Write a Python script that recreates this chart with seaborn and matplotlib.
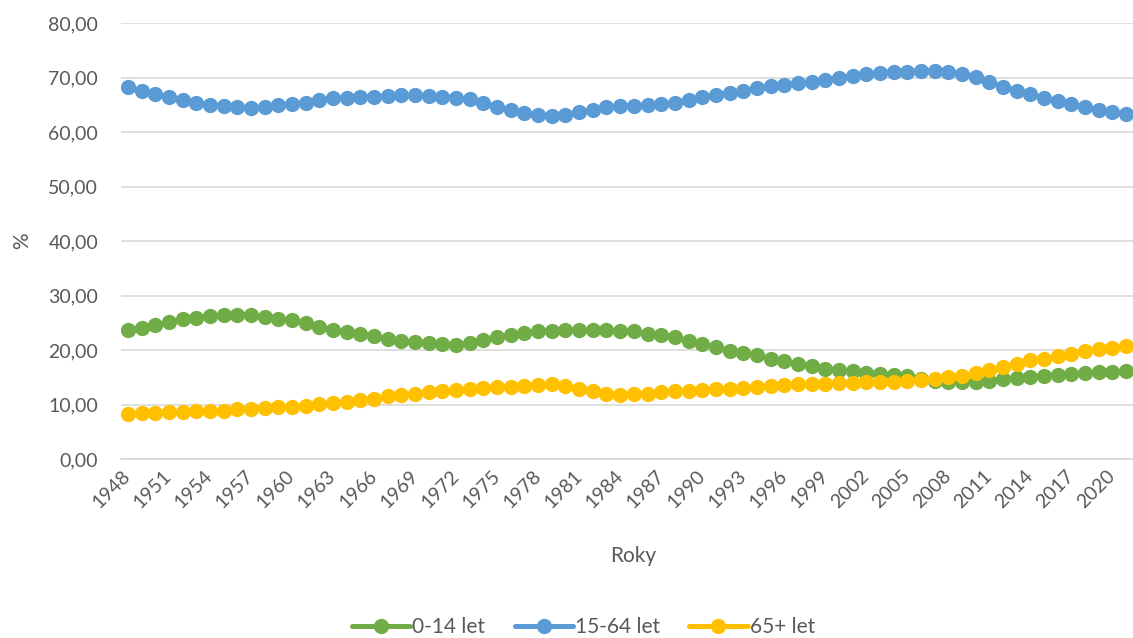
import numpy as np
import pandas as pd
import matplotlib
matplotlib.use("Agg")
import matplotlib.pyplot as plt
import seaborn as sns

# Population age structure, share of each age group (%)
years = list(range(1948, 2022))

age_0_14 = [
    23.6, 24.1, 24.6, 25.1, 25.6, 25.9, 26.3, 26.4, 26.5, 26.5,
    26.0, 25.7, 25.5, 24.9, 24.2, 23.7, 23.3, 22.9, 22.5, 22.0,
    21.7, 21.4, 21.2, 21.1, 21.0, 21.3, 21.9, 22.4, 22.8, 23.2,
    23.4, 23.5, 23.6, 23.6, 23.6, 23.6, 23.5, 23.4, 22.9, 22.75,
    22.3, 21.7, 21.1, 20.5, 19.9, 19.4, 19.0, 18.35, 17.9, 17.4,
    17.0, 16.6, 16.3, 16.1, 15.85, 15.65, 15.4, 15.2, 14.7, 14.3,
    14.1, 14.1, 14.2, 14.4, 14.7, 14.85, 15.1, 15.3, 15.5, 15.6,
    15.8, 15.9, 16.0, 16.2,
]

age_15_64 = [
    68.3, 67.5, 66.9, 66.5, 65.8, 65.4, 65.0, 64.7, 64.5, 64.4,
    64.6, 64.9, 65.1, 65.4, 65.9, 66.2, 66.2, 66.4, 66.5, 66.6,
    66.7, 66.7, 66.6, 66.5, 66.2, 66.0, 65.3, 64.5, 64.0, 63.4,
    63.2, 63.0, 63.2, 63.7, 64.1, 64.5, 64.8, 64.8, 64.9, 65.1,
    65.4, 65.9, 66.4, 66.8, 67.2, 67.6, 68.1, 68.4, 68.7, 68.9,
    69.2, 69.6, 70.0, 70.3, 70.6, 70.9, 71.0, 71.1, 71.2, 71.2,
    71.0, 70.6, 70.1, 69.1, 68.3, 67.6, 66.9, 66.3, 65.6, 65.1,
    64.5, 64.0, 63.7, 63.3,
]

age_65_plus = [
    8.2, 8.35, 8.5, 8.6, 8.65, 8.8, 8.8, 8.85, 9.1, 9.15,
    9.3, 9.6, 9.5, 9.7, 10.05, 10.25, 10.5, 10.8, 11.1, 11.5,
    11.7, 12.0, 12.3, 12.5, 12.7, 12.9, 13.1, 13.2, 13.3, 13.4,
    13.6, 13.7, 13.4, 12.9, 12.4, 12.0, 11.8, 11.9, 12.0, 12.3,
    12.45, 12.55, 12.6, 12.8, 12.9, 13.05, 13.2, 13.35, 13.5, 13.7,
    13.8, 13.85, 14.0, 14.0, 14.05, 14.05, 14.15, 14.3, 14.45, 14.65,
    15.0, 15.3, 15.7, 16.3, 16.8, 17.45, 18.1, 18.4, 18.85, 19.35,
    19.8, 20.15, 20.3, 20.7,
]

series_names = ["0-14 let", "15-64 let", "65+ let"]
colors = ["#70AD47", "#5B9BD5", "#FFC000"]
y_ticks = [0, 10, 20, 30, 40, 50, 60, 70, 80]
x_tick_years = years[::3]

text_color = "#595959"
grid_color = "#D9D9D9"

df = pd.DataFrame({
    "pos": list(range(len(years))) * 3,
    "value": age_0_14 + age_15_64 + age_65_plus,
    "group": np.repeat(series_names, len(years)),
})

sns.set_style("white")
plt.rcParams["font.family"] = ["Lato", "DejaVu Sans"]

fig = plt.figure(figsize=(11.33, 6.38), dpi=100)
ax = fig.add_axes([121 / 1133, 179 / 638, 1012 / 1133, 436 / 638])

for name, color in zip(series_names, colors):
    sns.lineplot(
        data=df[df["group"] == name], x="pos", y="value",
        color=color, linewidth=3.6, marker="o", markersize=11,
        markeredgewidth=0, label=name, ax=ax, legend=False,
    )

ax.set_xlim(-0.5, len(years) - 0.5)
ax.set_ylim(0, 80)
ax.set_yticks(y_ticks)
ax.set_yticklabels([f"{v:.2f}".replace(".", ",") for v in y_ticks])
ax.set_xticks([years.index(y) for y in x_tick_years])
ax.set_xticklabels([str(y) for y in x_tick_years], rotation=45,
                   ha="right", va="center", rotation_mode="anchor")

ax.tick_params(axis="both", length=0, labelsize=14, labelcolor=text_color)
ax.tick_params(axis="y", pad=16.5)
ax.tick_params(axis="x", pad=10)

ax.grid(axis="y", color=grid_color, linewidth=1.2)
ax.set_axisbelow(True)
for side in ["top", "right", "left"]:
    ax.spines[side].set_visible(False)
ax.spines["bottom"].set_color(grid_color)
ax.spines["bottom"].set_linewidth(1.2)

ax.set_xlabel("Roky", fontsize=15, color=text_color)
ax.set_ylabel("%", fontsize=15, color=text_color)
ax.xaxis.set_label_coords(0.506, -0.2)
ax.yaxis.set_label_coords(-0.088, 0.5)

handles, labels = ax.get_legend_handles_labels()
leg = fig.legend(handles, labels, loc="center", bbox_to_anchor=(0.515, 0.017),
                 ncol=3, frameon=False, fontsize=15, handlelength=2.8,
                 handletextpad=0.1, columnspacing=1.4, markerscale=1.0)
for t in leg.get_texts():
    t.set_color(text_color)

fig.savefig("out.png", dpi=100, facecolor="white")
